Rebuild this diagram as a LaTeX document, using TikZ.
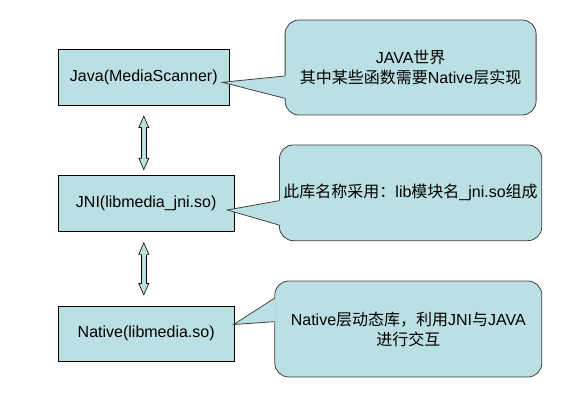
\documentclass[tikz,border=0pt]{standalone}
\usepackage{fontspec}
\setmainfont{Liberation Sans}
\newfontfamily\cjk{Noto Sans CJK SC}
\usepackage{xcolor}
\usepackage{tikz}
\usetikzlibrary{calc}
\usetikzlibrary{arrows.meta}
\definecolor{paleteal}{HTML}{BBE0E3}
\definecolor{edgegrey}{HTML}{404040}

\begin{document}
\begin{tikzpicture}[x=1pt,y=-1pt,
		layer/.style={rectangle,draw=black,fill=paleteal,line width=0.8pt,inner sep=0pt,font=\fontsize{16}{20}\selectfont},
		note/.style={rectangle,rounded corners=14pt,draw=edgegrey,fill=paleteal,line width=0.8pt,align=center,inner sep=0pt,font=\fontsize{16}{20}\selectfont},
		linkout/.style={black,line width=5.4pt,{Triangle[width=11pt,length=12.5pt,line width=0pt]}-{Triangle[width=11pt,length=12.5pt,line width=0pt]}},
		linkin/.style={paleteal,line width=3.8pt,{Triangle[width=8.6pt,length=9.9pt,line width=0pt]}-{Triangle[width=8.6pt,length=9.9pt,line width=0pt]}}]
		\useasboundingbox (0,0) rectangle (588,406);

		% the three layers
		\node at (143.8,77.3) (java) [layer, minimum width=171.4pt, minimum height=56pt] {Java(MediaScanner)};
		\node at (146.2,203) (jni) [layer, minimum width=176.2pt, minimum height=56pt] {JNI(libmedia\_jni.so)};
		\node at (146.2,333.5) (native) [layer, minimum width=176.2pt, minimum height=55pt] {Native(libmedia.so)};

		% two-way arrows between layers
		\foreach \a/\b/\s/\e in {java/jni/9.7pt/4.3pt, jni/native/10.7pt/10pt}{
			\draw[linkout, shorten <=\s, shorten >=\e] (java.south |- \a.south) -- (java.south |- \b.north);
			\draw[linkin, shorten <=\s+1.8pt, shorten >=\e+1.8pt] (java.south |- \a.south) -- (java.south |- \b.north);
		}

		% callouts
		\node at (410.6,67.5) (say1) [note, minimum width=251pt, minimum height=95pt] {JAVA{\cjk 世界}\\{\cjk 其中某些函数需要}Native{\cjk 层实现}};
		\node at (410.6,192.8) (say2) [note, minimum width=262.4pt, minimum height=95.7pt] {{\cjk 此库名称采用：}lib{\cjk 模块名}\_jni.so{\cjk 组成}};
		\node at (408.3,329) (say3) [note, minimum width=267pt, minimum height=96pt] {Native{\cjk 层动态库，利用}JNI{\cjk 与}JAVA\\{\cjk 进行交互}};

		% callout pointers
		\foreach \n/\m/\tx/\ty/\u/\v in {say1/java/-7.5/5/8.5/30.8, say2/jni/-7.4/7/7.9/32.2, say3/native/-1.1/-9/-30.7/-7.3}{
			\coordinate (tip) at ($(\m.east)+(\tx,\ty)$);
			\fill[paleteal] ($(\n.west)+(1.2,\u)$) -- (tip) -- ($(\n.west)+(1.2,\v)$) -- cycle;
			\draw[edgegrey, line width=0.8pt] ($(\n.west)+(0,\u)$) -- (tip) -- ($(\n.west)+(0,\v)$);
		}
	\end{tikzpicture}
\end{document}
